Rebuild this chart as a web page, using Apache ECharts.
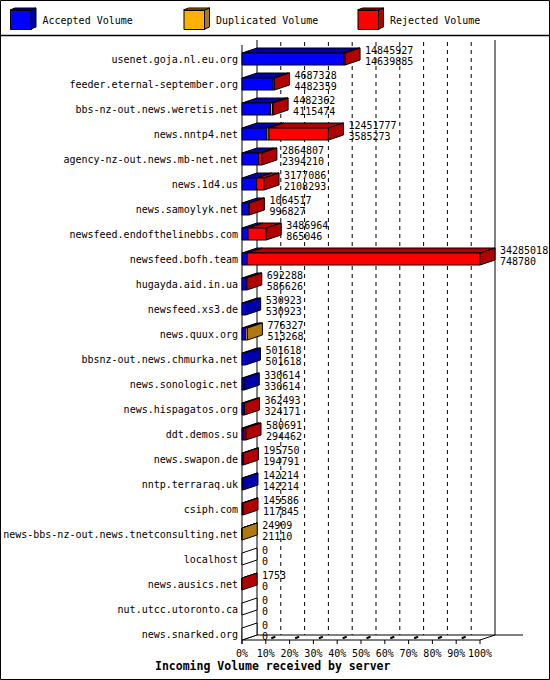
<!DOCTYPE html>
<html>
<head>
<meta charset="utf-8">
<script src="https://cdn.jsdelivr.net/npm/echarts@6/dist/echarts.min.js"></script>
<style>html,body{margin:0;padding:0;background:#fff;}#c{width:550px;height:680px;}</style>
</head>
<body>
<div id="c"></div>
<script>
const categories = [
  'usenet.goja.nl.eu.org','feeder.eternal-september.org','bbs-nz-out.news.weretis.net','news.nntp4.net',
  'agency-nz-out.news.mb-net.net','news.1d4.us','news.samoylyk.net','newsfeed.endofthelinebbs.com',
  'newsfeed.bofh.team','hugayda.aid.in.ua','newsfeed.xs3.de','news.quux.org',
  'bbsnz-out.news.chmurka.net','news.sonologic.net','news.hispagatos.org','ddt.demos.su',
  'news.swapon.de','nntp.terraraq.uk','csiph.com','news-bbs-nz-out.news.tnetconsulting.net',
  'localhost','news.ausics.net','nut.utcc.utoronto.ca','news.snarked.org'
];
const totalVolume = [14845927,4687328,4482362,12451777,2864807,3177086,1064517,3486964,34285018,692288,530923,776327,501618,330614,362493,580691,195750,142214,145586,24909,0,1753,0,0];
const acceptedVolume = [14639885,4482359,4115474,3585273,2394210,2108293,996827,865046,748780,586626,530923,513268,501618,330614,324171,294462,194791,142214,117845,21110,0,0,0,0];
const duplicatedVolume = [0,0,280000,300000,0,0,0,0,0,0,0,263059,0,0,0,0,0,0,0,3799,0,0,0,0];
const rejectedVolume = [206042,204969,86888,8566504,470597,1068793,67690,2621918,33536238,105662,0,0,0,0,38322,286229,959,0,27741,0,0,1753,0,0];
const percentTicks = [0,10,20,30,40,50,60,70,80,90,100];
const seriesNames = ['Accepted Volume','Duplicated Volume','Rejected Volume'];

const FRONT = ['#0000ff','#ffb000','#ff0000'];
const DARK = ['#0000aa','#b07810','#b00000'];
const DX = 15, DY = 5, HALF = 6;
const FONT = '"DejaVu Sans Mono", monospace';
const maxTotal = Math.max.apply(null, totalVolume);
const pct = v => v / maxTotal * 100;

function segData(k) {
  return categories.map((c, i) => {
    const a = acceptedVolume[i], d = duplicatedVolume[i], r = rejectedVolume[i];
    const starts = [0, a, a + d];
    const lens = [a, d, r];
    return [pct(starts[k]), pct(starts[k] + lens[k]), i];
  });
}

function segRender(k) {
  return function (params, api) {
    const p0 = api.coord([api.value(0), api.value(2)]);
    const p1 = api.coord([api.value(1), api.value(2)]);
    const L = p0[0], R = p1[0], c = p0[1];
    if (!(R - L > 0)) return {type: 'group', children: []};
    return {type: 'group', children: [
      {type: 'polygon', shape: {points: [[L, c - HALF], [L + DX, c - HALF - DY], [R + DX, c - HALF - DY], [R, c - HALF]]},
        style: {fill: DARK[k], stroke: '#000', lineWidth: 1}},
      {type: 'rect', shape: {x: L, y: c - HALF, width: R - L, height: HALF * 2},
        style: {fill: FRONT[k], stroke: '#000', lineWidth: 1}}
    ]};
  };
}

const endData = categories.map((c, i) => {
  let last = -1;
  if (acceptedVolume[i] > 0) last = 0;
  if (duplicatedVolume[i] > 0) last = 1;
  if (rejectedVolume[i] > 0) last = 2;
  return [pct(totalVolume[i]), i, totalVolume[i], acceptedVolume[i], last];
});

function endRender(params, api) {
  const p = api.coord([api.value(0), api.value(1)]);
  const R = p[0], c = p[1];
  const last = api.value(4);
  const fill = last < 0 ? '#ffffff' : DARK[last];
  return {type: 'group', children: [
    {type: 'polygon', shape: {points: [[R, c - HALF], [R + DX, c - HALF - DY], [R + DX, c + HALF - DY], [R, c + HALF]]},
      style: {fill: fill, stroke: '#000', lineWidth: 1}},
    {type: 'text', style: {text: String(api.value(2)), x: R + 20, y: c - 9, fill: '#000', font: '10px ' + FONT, align: 'left', verticalAlign: 'middle'}},
    {type: 'text', style: {text: String(api.value(3)), x: R + 20, y: c + 2, fill: '#000', font: '10px ' + FONT, align: 'left', verticalAlign: 'middle'}}
  ]};
}

function frameRender(params, api) {
  const n = categories.length;
  const first = api.coord([0, 0]);
  const lastRow = api.coord([0, n - 1]);
  const x0 = first[0];
  const x100 = api.coord([100, 0])[0];
  const top = first[1] - 19;
  const fy = lastRow[1] + HALF;   // front floor
  const by = fy - DY;             // back floor
  const ch = [];
  const line = (a, b, c, d, extra) => ch.push(Object.assign({type: 'line', shape: {x1: a, y1: b, x2: c, y2: d}, style: {stroke: '#000', lineWidth: 1}}, extra || {}));
  percentTicks.forEach(t => {
    const x = api.coord([t, 0])[0];
    if (t > 0 && t < 100) {
      ch.push({type: 'line', shape: {x1: x + DX, y1: top + 2, x2: x + DX, y2: by}, style: {stroke: '#000', lineWidth: 1, lineDash: [4, 4]}});
      ch.push({type: 'line', shape: {x1: x + 5.5, y1: fy - 1.8, x2: x + 9.5, y2: fy - 3.2}, style: {stroke: '#000', lineWidth: 2}});
    }
    line(x, fy, x, fy + 4);
  });
  line(x0 + DX, top, x0 + DX, by);
  line(x100 + DX, top, x100 + DX, by);
  line(x0, top + 5, x0, fy + 4);
  line(x0 + DX, by, x100 + DX + 28, by);
  line(x0, fy, x100, fy);
  line(x100, fy, x100 + DX, by);
  line(x0, fy, x0 + DX, by);
  return {type: 'group', children: ch};
}

const chart = echarts.init(document.getElementById('c'), null, {renderer: 'svg'});

function legendItem(k, left) {
  return {
    data: [seriesNames[k]], left: left, top: 10, padding: 0,
    itemWidth: 21, itemHeight: 19, icon: 'rect', selectedMode: false,
    itemStyle: {borderColor: '#000', borderWidth: 1},
    textStyle: {fontFamily: FONT, fontSize: 10, color: '#000', padding: [0, 0, 0, 6]}
  };
}
function cubeSide(k, left) {
  return {type: 'polygon', shape: {points: [[left + 21, 10], [left + 26, 8], [left + 26, 27], [left + 21, 29]]},
    style: {fill: DARK[k], stroke: '#000', lineWidth: 1}, z: 10};
}
function cubeTop(k, left) {
  return {type: 'polygon', shape: {points: [[left, 10], [left + 5, 8], [left + 26, 8], [left + 21, 10]]},
    style: {fill: DARK[k], stroke: '#000', lineWidth: 1}, z: 10};
}
const legendLefts = [10, 183.5, 357.5];

chart.setOption({
  animation: false,
  backgroundColor: '#fff',
  title: {text: 'Incoming Volume received by server', left: 155, top: 660, padding: 0,
    textStyle: {fontFamily: FONT, fontWeight: 'bold', fontSize: 11.5, color: '#000'}},
  legend: legendLefts.map((l, k) => legendItem(k, l)),
  graphic: [
    {type: 'rect', shape: {x: 0.5, y: 0.5, width: 549, height: 679}, style: {fill: 'none', stroke: '#000', lineWidth: 1}, z: 10},
    {type: 'line', shape: {x1: 0, y1: 35.5, x2: 550, y2: 35.5}, style: {stroke: '#000', lineWidth: 1.5}, z: 10}
  ].concat(legendLefts.map((l, k) => cubeSide(k, l))).concat(legendLefts.map((l, k) => cubeTop(k, l))),
  grid: {left: 242, right: 70, top: 46.5, bottom: 33.5, containLabel: false},
  xAxis: {type: 'value', min: 0, max: 100, interval: 10,
    axisLine: {show: false}, axisTick: {show: false}, splitLine: {show: false},
    axisLabel: {margin: 1.5, formatter: v => v + '%', fontFamily: FONT, fontSize: 10, color: '#000', verticalAlign: 'top'}},
  yAxis: {type: 'category', data: categories, inverse: true,
    axisLine: {show: false}, axisTick: {show: false}, splitLine: {show: false},
    axisLabel: {margin: 4, fontFamily: FONT, fontSize: 10, color: '#000'}},
  series: [
    {type: 'custom', name: 'frame', silent: true, z: 1, data: [[0, 0]], encode: {x: 0, y: 1}, renderItem: frameRender, clip: false},
    {type: 'custom', name: seriesNames[0], z: 2, itemStyle: {color: FRONT[0]}, data: segData(0), encode: {x: [0, 1], y: 2}, renderItem: segRender(0), clip: false},
    {type: 'custom', name: seriesNames[1], z: 2, itemStyle: {color: FRONT[1]}, data: segData(1), encode: {x: [0, 1], y: 2}, renderItem: segRender(1), clip: false},
    {type: 'custom', name: seriesNames[2], z: 2, itemStyle: {color: FRONT[2]}, data: segData(2), encode: {x: [0, 1], y: 2}, renderItem: segRender(2), clip: false},
    {type: 'custom', name: 'ends', silent: true, z: 3, data: endData, encode: {x: 0, y: 1}, renderItem: endRender, clip: false}
  ]
});
</script>
</body>
</html>
